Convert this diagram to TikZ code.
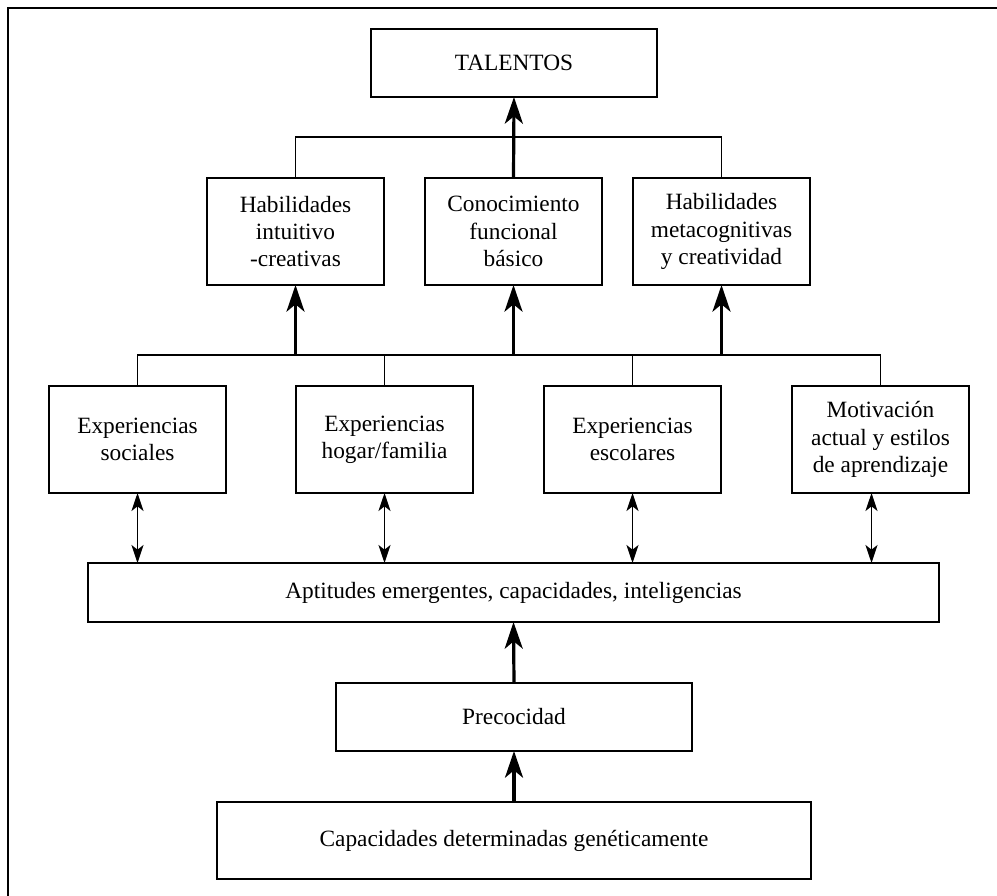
\documentclass[tikz,border=0pt]{standalone}
\usepackage{fontspec}
\setmainfont{Liberation Serif}
\usepackage{tikz}
\usetikzlibrary{arrows.meta}
\usetikzlibrary{positioning}

\begin{document}
\begin{tikzpicture}[
		x=0.75pt,
		y=-0.75pt,
		line width=0.9pt,
		font=\fontsize{17.5}{20.5}\selectfont,
		box/.style={draw, rectangle, align=center, inner sep=0pt, outer sep=0pt}
		,
		row box/.style={
			box,
			minimum width=132.75pt,
			minimum height=80.25pt
		}
		,
		up arrow/.style={-{Stealth[length=20pt,width=13.5pt,inset=5.5pt]}, line width=2.4pt},
		both arrow/.style={{Stealth[length=13.5pt,width=9pt,inset=3.5pt]}-{Stealth[length=13.5pt,width=9pt,inset=3.5pt]}}
		]
		
		\useasboundingbox (0,0) rectangle (997,896);
		\draw (997,8) -- (8,8) -- (8,896);
		
		\node[box, minimum width=214.5pt, minimum height=51pt] (tal) at (514,63) {TALENTOS};
		
		\node[row box] (hab1) at (295.5,231.5) {Habilidades\\intuitivo\\-creativas};
		\node[row box] (con) at (513.5,231.5) {Conocimiento\\funcional\\básico};
		\node[row box] (hab2) at (721.5,231.5) {Habilidades\\metacognitivas\\y creatividad};
		
		\node[row box] (soc) at (137.5,439.5) {Experiencias\\sociales};
		\node[row box] (hog) at (384.5,439.5) {Experiencias\\hogar/familia};
		\node[row box] (esc) at (632.5,439.5) {Experiencias\\escolares};
		\node[row box] (mot) at (880.5,439.5) {Motivación\\actual y estilos\\de aprendizaje};
		
		\node[box, minimum width=638.25pt, minimum height=44.25pt] (apt) at (513.5,592.5) {Aptitudes emergentes, capacidades, inteligencias};
		\node[box, minimum width=267pt, minimum height=51pt] (prec) at (514,717) {Precocidad};
		\node[box, minimum width=445.5pt, minimum height=57.75pt] (cap) at (514,840.5) {Capacidades determinadas genéticamente};
		
		\coordinate (top bar) at (514,137);
		\coordinate (mid bar) at (514,355);
		\coordinate (mot in) at ([xshift=-6.75pt]mot.south);
		
		\draw (hab1.north) -- (hab1.north |- top bar) -- (hab2.north |- top bar) -- (hab2.north);
		\draw[up arrow] (con.north) -- (tal.south);
		
		\draw (soc.north) -- (soc.north |- mid bar) -- (mot.north |- mid bar) -- (mot.north);
		\draw (hog.north) -- (hog.north |- mid bar);
		\draw (esc.north) -- (esc.north |- mid bar);
		\foreach \n in {hab1,con,hab2}
			\draw[up arrow] (\n.south |- mid bar) -- (\n.south);
		
		\foreach \n in {soc,hog,esc}
			\draw[both arrow] (\n.south) -- (\n.south |- apt.north);
		\draw[both arrow] (mot in) -- (mot in |- apt.north);
		
		\draw[up arrow] (prec.north) -- (apt.south);
		\draw[up arrow] (cap.north) -- (prec.south);
	\end{tikzpicture}
\end{document}
